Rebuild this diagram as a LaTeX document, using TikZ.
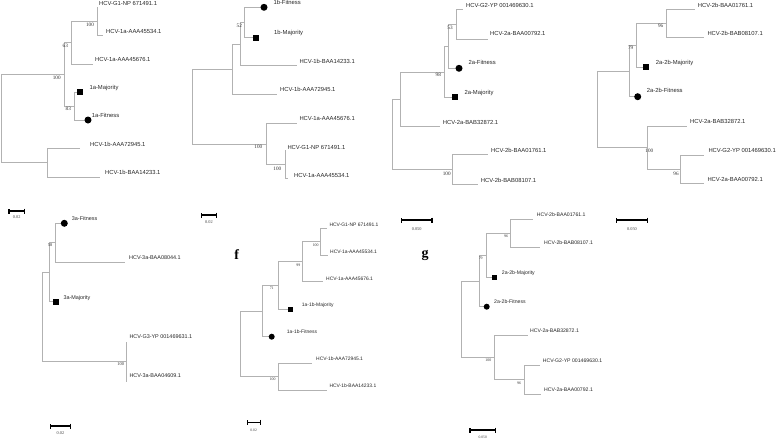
\documentclass[tikz,border=0pt]{standalone}
\usepackage{fontspec}
\setmainfont{Liberation Sans}
\newfontfamily\serf{Liberation Serif}
\usetikzlibrary{arrows.meta}
\newcommand\lfsz[1]{\fontsize{#1}{#1}\selectfont}
\begin{document}
\begin{tikzpicture}[x=1pt,y=-1pt,
 br/.style={draw=black!30, line width=0.55pt},
 lab/.style={inner sep=0pt, anchor=base west, text=black!85, font=\lfsz{5.85}},
 labe/.style={lab, font=\lfsz{5.45}},
 labf/.style={lab, font=\lfsz{4.95}},
 labg/.style={lab, font=\lfsz{5.15}},
 bs/.style={inner sep=0pt, text=black!80, font=\serf\lfsz{5.2}},
 bse/.style={bs, font=\serf\lfsz{4.4}},
 bsf/.style={bs, font=\serf\lfsz{3.9}},
 sq/.style={rectangle, fill=black, minimum size=6pt, inner sep=0pt},
 ci/.style={circle, fill=black, minimum size=7pt, inner sep=0pt},
 sqs/.style={sq, minimum size=5pt},
 cis/.style={ci, minimum size=6pt},
 sbar/.style={line width=1.4pt, {Bar[width=5pt]}-{Bar[width=5pt]}},
 sbart/.style={inner sep=0pt, text=black!75, font=\serf\lfsz{4.3}},
 plab/.style={inner sep=0pt, font=\serf\bfseries\lfsz{14}}]
\useasboundingbox (0,0) rectangle (776,440);
% ================= panel a =================
\coordinate (ra) at (1,118.4);
\coordinate (ua) at (64,74.3);
\coordinate (c63) at (71,42.5);
\coordinate (n100a) at (97,21);
\coordinate (ag1) at (97,7);
\coordinate (a34) at (103,35);
\coordinate (a76) at (93,64);
\coordinate (c83) at (74,106);
\coordinate (la) at (47,162.5);
\coordinate (ab45) at (80,148);
\coordinate (ab33) at (100,177);
\draw[br] (ra) |- (ua) (ra) |- (la) (ua) |- (c63) (ua) |- (c83)
 (c63) |- (n100a) (c63) |- (a76) (n100a) |- (ag1) (n100a) |- (a34)
 (c83) |- (80,92) (c83) |- (88,120) (la) |- (ab45) (la) |- (ab33);
\node[sq] (asq) at (80,92) {};
\node[ci] (aci) at (88,120) {};
\node[lab] (ag1t) at (99,5.5) {HCV-G1-NP 671491.1};
\node[lab] (a34t) at (106,33.5) {HCV-1a-AAA45534.1};
\node[lab] (a76t) at (95,61.5) {HCV-1a-AAA45676.1};
\node[lab] (asqt) at (89.3,89.5) {1a-Majority};
\node[lab] (acit) at (91.7,117.5) {1a-Fitness};
\node[lab] (ab45t) at (90,146) {HCV-1b-AAA72945.1};
\node[lab] (ab33t) at (105,174.5) {HCV-1b-BAA14233.1};
\node[bs] (abs1) at (90,24.3) {100};
\node[bs] (abs2) at (65.3,45.7) {63};
\node[bs] (abs3) at (56.7,77.3) {100};
\node[bs] (abs4) at (68.3,108.3) {83};
\coordinate (asb1) at (8.3,211);
\coordinate (asb2) at (25,211);
\draw[sbar] (asb1) -- (asb2);
\node[sbart] (asbt) at (16.7,217.5) {0.02};
% ================= panel b =================
\coordinate (rb) at (192.7,106.6);
\coordinate (n1b) at (232.3,69.4);
\coordinate (n2b) at (240,44.5);
\coordinate (n52b) at (244.3,22.4);
\coordinate (b33) at (296.7,65.7);
\coordinate (b45) at (277.3,94.3);
\coordinate (n3b) at (266,143.8);
\coordinate (b76) at (296.7,123.3);
\coordinate (n4b) at (285,164.4);
\coordinate (bg1) at (285,150.2);
\coordinate (b34) at (288.3,178.5);
\draw[br] (rb) |- (n1b) (rb) |- (n3b) (n1b) |- (n2b) (n1b) |- (b45)
 (n2b) |- (n52b) (n2b) |- (b33) (n52b) |- (264,7.3) (n52b) |- (255.7,37.5)
 (n3b) |- (b76) (n3b) |- (n4b) (n4b) |- (bg1) (n4b) |- (b34);
\node[ci] (bci) at (264,7.3) {};
\node[sq] (bsq) at (255.7,37.5) {};
\node[lab] (bcit) at (273.3,4.9) {1b-Fitness};
\node[lab] (bsqt) at (274,34.5) {1b-Majority};
\node[lab] (b33t) at (299.3,63.2) {HCV-1b-BAA14233.1};
\node[lab] (b45t) at (280,91.5) {HCV-1b-AAA72945.1};
\node[lab] (b76t) at (299.3,120.5) {HCV-1a-AAA45676.1};
\node[lab] (bg1t) at (287.3,149) {HCV-G1-NP 671491.1};
\node[lab] (b34t) at (294,177.2) {HCV-1a-AAA45534.1};
\node[bs] (bbs1) at (239.3,26) {52};
\node[bs] (bbs2) at (258.3,146.7) {100};
\node[bs] (bbs3) at (277.3,169) {100};
\coordinate (bsb1) at (201,215);
\coordinate (bsb2) at (217.3,215);
\draw[sbar] (bsb1) -- (bsb2);
\node[sbart] (bsbt) at (209,222) {0.02};
% ================= panel c =================
\coordinate (rc) at (392.3,134.2);
\coordinate (nAc) at (400,99.3);
\coordinate (n98c) at (444.3,72);
\coordinate (nXc) at (448.3,46.5);
\coordinate (n53c) at (456.7,24.5);
\coordinate (cg2) at (463,9.7);
\coordinate (c92) at (488.3,39.3);
\coordinate (c72) at (440,126.7);
\coordinate (n100c) at (452.7,169);
\coordinate (c61) at (488.3,154);
\coordinate (c07) at (478.3,184);
\draw[br] (rc) |- (nAc) (rc) |- (n100c) (nAc) |- (n98c) (nAc) |- (c72)
 (n98c) |- (nXc) (n98c) |- (455.3,97.3) (nXc) |- (n53c) (nXc) |- (459,68.3)
 (n53c) |- (cg2) (n53c) |- (c92) (n100c) |- (c61) (n100c) |- (c07);
\node[ci] (cci) at (459,68.3) {};
\node[sq] (csq) at (455.3,97.3) {};
\node[lab] (cg2t) at (466,7.2) {HCV-G2-YP 001469630.1};
\node[lab] (c92t) at (490,35.5) {HCV-2a-BAA00792.1};
\node[lab] (ccit) at (468.3,64.9) {2a-Fitness};
\node[lab] (csqt) at (464.3,94.2) {2a-Majority};
\node[lab] (c72t) at (442.7,124) {HCV-2a-BAB32872.1};
\node[lab] (c61t) at (491,152.2) {HCV-2b-BAA01761.1};
\node[lab] (c07t) at (480.7,182.2) {HCV-2b-BAB08107.1};
\node[bs] (cbs1) at (450,27.3) {53};
\node[bs] (cbs2) at (438.3,75) {98};
\node[bs] (cbs3) at (446.7,173.3) {100};
\coordinate (csb1) at (400.7,220);
\coordinate (csb2) at (432.7,220);
\draw[sbar] (csb1) -- (csb2);
\node[sbart] (csbt) at (416.7,229) {0.050};
% ================= panel d =================
\coordinate (rd) at (597.3,109.5);
\coordinate (nPd) at (629.3,71);
\coordinate (n79d) at (636,45.3);
\coordinate (n96d) at (666.7,23.3);
\coordinate (d61) at (695,9.3);
\coordinate (d07) at (704,37.3);
\coordinate (n100d) at (647.3,147.6);
\coordinate (d72) at (687.3,126);
\coordinate (n96bd) at (680.7,169.2);
\coordinate (dg2) at (704,155);
\coordinate (d92) at (704,183.3);
\draw[br] (rd) |- (nPd) (rd) |- (n100d) (nPd) |- (n79d) (nPd) |- (637.7,96.7)
 (n79d) |- (n96d) (n79d) |- (646.3,67.3) (n96d) |- (d61) (n96d) |- (d07)
 (n100d) |- (d72) (n100d) |- (n96bd) (n96bd) |- (dg2) (n96bd) |- (d92);
\node[sq] (dsq) at (646.3,67.3) {};
\node[ci] (dci) at (637.7,96.7) {};
\node[lab] (d61t) at (697.7,7.9) {HCV-2b-BAA01761.1};
\node[lab] (d07t) at (707.3,35) {HCV-2b-BAB08107.1};
\node[lab] (dsqt) at (655.7,64.2) {2a-2b-Majority};
\node[lab] (dcit) at (646.7,92.9) {2a-2b-Fitness};
\node[lab] (d72t) at (690,123.2) {HCV-2a-BAB32872.1};
\node[lab] (dg2t) at (708.3,152.2) {HCV-G2-YP 001469630.1};
\node[lab] (d92t) at (707.3,181.2) {HCV-2a-BAA00792.1};
\node[bs] (dbs1) at (660.7,26) {96};
\node[bs] (dbs2) at (630.7,47.7) {79};
\node[bs] (dbs3) at (649.3,150.7) {100};
\node[bs] (dbs4) at (676,173.3) {96};
\coordinate (dsb1) at (616,220);
\coordinate (dsb2) at (648.3,220);
\draw[sbar] (dsb1) -- (dsb2);
\node[sbart] (dsbt) at (632,229) {0.050};
% ================= panel e =================
\coordinate (re) at (42.7,317);
\coordinate (ne1) at (49.3,272.2);
\coordinate (n5e) at (55,242.7);
\coordinate (e44) at (125,262);
\coordinate (n100e) at (126.7,361.7);
\coordinate (eg3) at (126.7,341.7);
\coordinate (e09) at (126.7,381.7);
\draw[br] (re) |- (ne1) (re) |- (n100e) (ne1) |- (n5e) (ne1) |- (56,301.7)
 (n5e) |- (64.3,223.3) (n5e) |- (e44) (n100e) |- (eg3) (n100e) |- (e09);
\node[ci] (eci) at (64.3,223.3) {};
\node[sq] (esq) at (56,301.7) {};
\node[labe] (ecit) at (71.7,220.5) {3a-Fitness};
\node[labe] (e44t) at (129,259.5) {HCV-3a-BAA08044.1};
\node[labe] (esqt) at (63.3,299) {3a-Majority};
\node[labe] (eg3t) at (129.3,338.2) {HCV-G3-YP 001469631.1};
\node[labe] (e09t) at (129.3,377.9) {HCV-3a-BAA04609.1};
\node[bse] (ebs1) at (50,245) {58};
\node[bse] (ebs2) at (120.7,364) {100};
\coordinate (esb1) at (50,426);
\coordinate (esb2) at (71,426);
\draw[sbar, line width=1.1pt] (esb1) -- (esb2);
\node[sbart] (esbt) at (60.5,432.7) {0.02};
% ================= panel f =================
\node[plab] (flab) at (236.7,255) {f};
\coordinate (rf) at (240,343.9);
\coordinate (nFf) at (262.7,311.1);
\coordinate (n71f) at (278.3,285.5);
\coordinate (n99f) at (302.7,261.7);
\coordinate (n100f) at (320,241.7);
\coordinate (fg1) at (327,228.3);
\coordinate (f34) at (328.3,255);
\coordinate (f76) at (323.3,281.7);
\coordinate (n100fb) at (278.3,376.7);
\coordinate (f45) at (311.7,363.3);
\coordinate (f33) at (326.7,390);
\draw[br] (rf) |- (nFf) (rf) |- (n100fb) (nFf) |- (n71f) (nFf) |- (271.7,336.7)
 (n71f) |- (n99f) (n71f) |- (290.7,309.3) (n99f) |- (n100f) (n99f) |- (f76)
 (n100f) |- (fg1) (n100f) |- (f34) (n100fb) |- (f45) (n100fb) |- (f33);
\node[sqs] (fsq) at (290.7,309.3) {};
\node[cis] (fci) at (271.7,336.7) {};
\node[labf] (fg1t) at (329.3,226.2) {HCV-G1-NP 671491.1};
\node[labf] (f34t) at (330,253) {HCV-1a-AAA45534.1};
\node[labf] (f76t) at (326,280.2) {HCV-1a-AAA45676.1};
\node[labf] (fsqt) at (301.7,306.2) {1a-1b-Majority};
\node[labf] (fcit) at (286.7,333.2) {1a-1b-Fitness};
\node[labf] (f45t) at (316,360.5) {HCV-1b-AAA72945.1};
\node[labf] (f33t) at (329.3,387.2) {HCV-1b-BAA14233.1};
\node[bsf] (fbs1) at (315.7,245) {100};
\node[bsf] (fbs2) at (298.3,265) {99};
\node[bsf] (fbs3) at (271.7,288.3) {71};
\node[bsf] (fbs4) at (272.7,379.3) {100};
\coordinate (fsb1) at (246.7,422.3);
\coordinate (fsb2) at (260.7,422.3);
\draw[sbar, line width=1.1pt] (fsb1) -- (fsb2);
\node[sbart, font=\serf\lfsz{3.7}] (fsbt) at (253.7,430) {0.02};
% ================= panel g =================
\node[plab] (glab) at (425,255) {g};
\coordinate (rg) at (461.7,319.2);
\coordinate (nPg) at (479.3,281);
\coordinate (n79g) at (486,255.4);
\coordinate (n96g) at (510.7,233.5);
\coordinate (g61) at (533,219.3);
\coordinate (g07) at (540,247.7);
\coordinate (n100g) at (494,357.4);
\coordinate (g72) at (528.3,335.3);
\coordinate (n96bg) at (524,379.5);
\coordinate (gg2) at (540,365);
\coordinate (g92) at (540.7,394);
\draw[br] (rg) |- (nPg) (rg) |- (n100g) (nPg) |- (n79g) (nPg) |- (486.7,306.7)
 (n79g) |- (n96g) (n79g) |- (494,277.3) (n96g) |- (g61) (n96g) |- (g07)
 (n100g) |- (g72) (n100g) |- (n96bg) (n96bg) |- (gg2) (n96bg) |- (g92);
\node[sqs] (gsq) at (494,277.3) {};
\node[cis] (gci) at (486.7,306.7) {};
\node[labg] (g61t) at (536.7,216.2) {HCV-2b-BAA01761.1};
\node[labg] (g07t) at (544,244.9) {HCV-2b-BAB08107.1};
\node[labg] (gsqt) at (501.7,274.2) {2a-2b-Majority};
\node[labg] (gcit) at (494,303.2) {2a-2b-Fitness};
\node[labg] (g72t) at (530,332.9) {HCV-2a-BAB32872.1};
\node[labg] (gg2t) at (542.7,362.9) {HCV-G2-YP 001469630.1};
\node[labg] (g92t) at (544,391.2) {HCV-2a-BAA00792.1};
\node[bsf] (gbs1) at (506,236) {96};
\node[bsf] (gbs2) at (480.7,258.3) {79};
\node[bsf] (gbs3) at (488.3,360.7) {100};
\node[bsf] (gbs4) at (519,383.3) {96};
\coordinate (gsb1) at (469.3,430);
\coordinate (gsb2) at (496,430);
\draw[sbar, line width=1.2pt] (gsb1) -- (gsb2);
\node[sbart, font=\serf\lfsz{3.7}] (gsbt) at (482.7,437.3) {0.050};
\end{tikzpicture}
\end{document}
